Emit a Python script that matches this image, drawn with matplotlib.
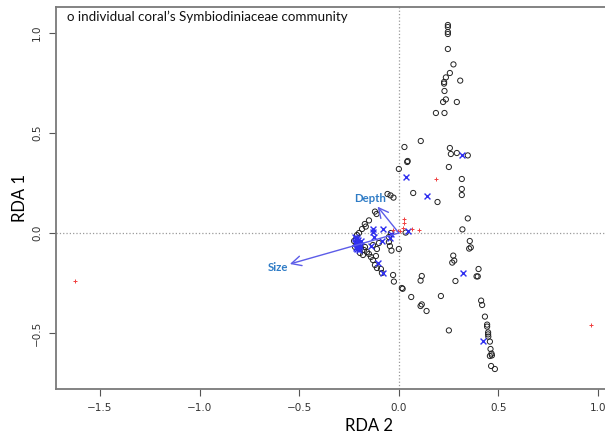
import numpy as np
import matplotlib.pyplot as plt

# individual coral communities (RDA 2, RDA 1)
coral_x = [0.246, 0.246, 0.246, 0.246, 0.246, 0.274, 0.256, 0.236, 0.308, 0.227, 0.227,
           0.229, 0.236, 0.222, 0.291, 0.186, 0.229, 0.110, 0.028, 0.256, 0.261, 0.291,
           0.346, 0.042, 0.044, 0.251, 0.316, 0.316, 0.316, 0.072, 0.194, 0.346, 0.319,
           0.034, 0.356, 0.361, 0.353, 0.273, 0.278, 0.268, 0.400, 0.390, 0.396, 0.284,
           0.115, 0.109, 0.015, 0.019, 0.062, 0.211, 0.109, 0.115, 0.139, 0.413, 0.418,
           0.432, 0.443, 0.443, 0.448, 0.448, 0.449, 0.251, 0.457, 0.460, 0.465, 0.457,
           0.467, 0.463, 0.482, 0.000,
           -0.057, -0.042, -0.027, -0.120, -0.112, -0.150, -0.171, -0.166, -0.185, -0.200,
           -0.210, -0.215, -0.205, -0.190, -0.175, -0.160, -0.150, -0.140, -0.130, -0.115,
           -0.120, -0.110, -0.090, -0.085, -0.050, -0.045, -0.050, -0.040, -0.029, -0.025,
           0.000, -0.037, -0.130, -0.110, -0.100, -0.225, -0.220, -0.195, -0.180, -0.170]
coral_y = [1.040, 1.030, 1.005, 0.995, 0.920, 0.843, 0.800, 0.778, 0.762, 0.755, 0.747,
           0.710, 0.668, 0.655, 0.655, 0.600, 0.600, 0.460, 0.430, 0.425, 0.395, 0.400,
           0.388, 0.355, 0.360, 0.330, 0.270, 0.220, 0.190, 0.200, 0.155, 0.073, 0.018,
           0.002, -0.040, -0.072, -0.078, -0.113, -0.138, -0.148, -0.180, -0.217, -0.217,
           -0.240, -0.215, -0.238, -0.275, -0.279, -0.320, -0.315, -0.365, -0.357, -0.390,
           -0.338, -0.360, -0.418, -0.458, -0.468, -0.497, -0.507, -0.518, -0.487, -0.543,
           -0.580, -0.603, -0.615, -0.612, -0.665, -0.680, 0.320,
           0.195, 0.188, 0.177, 0.107, 0.095, 0.063, 0.045, 0.032, 0.020, 0.000,
           -0.010, -0.030, -0.060, -0.075, -0.085, -0.095, -0.105, -0.120, -0.135, -0.115,
           -0.160, -0.175, -0.180, -0.200, -0.045, -0.065, -0.020, 0.000, -0.210, -0.243,
           -0.080, -0.088, -0.060, -0.080, -0.050, -0.040, -0.070, -0.100, -0.110, -0.070]

# site scores (blue x)
site_x = [0.318, 0.035, 0.139, 0.047, 0.323, 0.423, -0.132, -0.130, -0.079, -0.125,
          -0.040, -0.045, -0.084, -0.142, -0.107, -0.079,
          -0.215, -0.210, -0.205, -0.200, -0.212, -0.205, -0.198, -0.210, -0.220, -0.200,
          -0.218, -0.195, -0.190, -0.208, -0.215, -0.202]
site_y = [0.388, 0.280, 0.185, 0.012, -0.200, -0.542, 0.018, 0.005, 0.018, -0.018,
          -0.007, -0.025, -0.038, -0.065, -0.152, -0.198,
          -0.030, -0.045, -0.060, -0.075, -0.065, -0.035, -0.050, -0.080, -0.050, -0.085,
          -0.020, -0.065, -0.040, -0.025, -0.075, -0.055]

# species scores (red +)
sp_x = [-1.626, 0.963, 0.186, -0.029, -0.004, 0.008, 0.022, 0.025, 0.025, 0.067, 0.102]
sp_y = [-0.240, -0.460, 0.270, 0.015, 0.012, 0.012, 0.023, 0.068, 0.048, 0.018, 0.015]

# environmental vectors
env_names = ['Depth', 'Size']
env_x = [-0.107, -0.547]
env_y = [0.132, -0.155]
lab_x = [-0.146, -0.607]
lab_y = [0.170, -0.174]

fig = plt.figure(figsize=(6.05, 4.38), dpi=100)
ax = fig.add_axes([56 / 605, 49 / 438, 563 / 605, 382 / 438])
ax.set_xlim(-1.721, 1.105)
ax.set_ylim(-0.78, 1.13)

ax.axhline(0, color='#9a9a9a', ls=':', lw=0.9, zorder=0)
ax.axvline(0, color='#9a9a9a', ls=':', lw=0.9, zorder=0)

ax.scatter(coral_x, coral_y, s=14, facecolors='none', edgecolors='#222222', linewidths=0.7, zorder=2)
ax.scatter(site_x, site_y, marker='x', s=18, color='#2f2ff0', linewidths=1.0, zorder=3)
ax.scatter(sp_x, sp_y, marker='+', s=10, color='#f04040', linewidths=0.7, zorder=3)

for name, x, y, lx, ly in zip(env_names, env_x, env_y, lab_x, lab_y):
    ax.annotate('', xy=(x, y), xytext=(0, 0),
                arrowprops=dict(arrowstyle='->,head_length=0.7,head_width=0.35',
                                color='#5c5ce8', lw=1.0, shrinkA=0, shrinkB=0), zorder=4)
    ax.text(lx, ly, name, color='#2f7cc6', fontsize=8.2, fontweight='bold',
            family='Lato', ha='center', va='center', zorder=5)

ax.text(0.02, 0.974, 'o individual coral\u2019s Symbiodiniaceae community', transform=ax.transAxes,
        fontsize=9.6, family='Lato', va='center', ha='left', color='#111111')

ax.set_xticks([-1.5, -1.0, -0.5, 0.0, 0.5, 1.0])
ax.set_yticks([-0.5, 0.0, 0.5, 1.0])
ax.tick_params(direction='out', length=5, width=0.8, color='#555555', labelsize=7.5,
               labelcolor='#333333', pad=5)
for lab in ax.get_yticklabels():
    lab.set_rotation(90)
    lab.set_va('center')
for s in ax.spines.values():
    s.set_color('#7a7a7a')
    s.set_linewidth(1.3)

ax.set_xlabel('RDA 2', fontsize=12, family='Lato')
ax.set_ylabel('RDA 1', fontsize=12, family='Lato')
ax.xaxis.set_label_coords(0.556, -0.076)
ax.yaxis.set_label_coords(-0.05, 0.5)

fig.savefig('out.png', dpi=100)
